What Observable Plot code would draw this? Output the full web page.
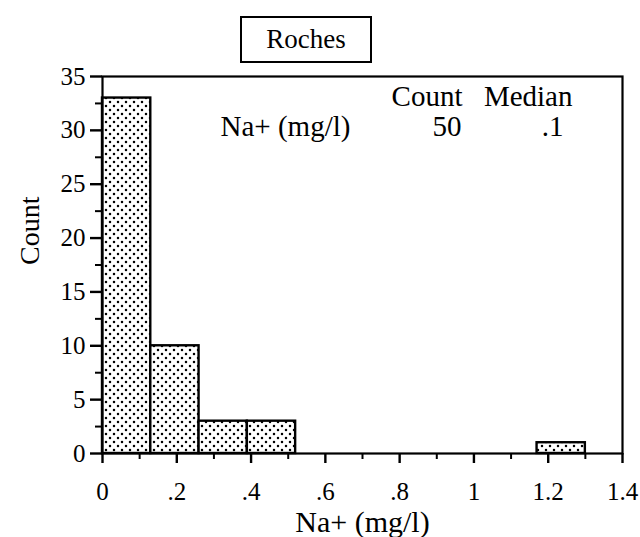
<!DOCTYPE html>
<html>
<head>
<meta charset="utf-8">
<script src="https://cdn.jsdelivr.net/npm/d3@7"></script>
<script src="https://cdn.jsdelivr.net/npm/@observablehq/plot@0.6"></script>
<style>
  body { margin: 0; background: #fff; }
  #wrap { position: relative; width: 640px; height: 537px; font-family: 'Liberation Serif', serif; }
  #title {
    position: absolute; left: 240px; top: 16px; width: 128px; height: 43px;
    border: 2px solid #000; text-align: center; font-size: 27px; line-height: 43px; background: #fff;
  }
</style>
</head>
<body>
<div id="wrap">
  <div id="title">Roches</div>
</div>
<script>
// Histogram of Na+ concentrations (bin width 0.13 mg/l)
const binStart = [0, 0.13, 0.26, 0.39, 1.17];
const binEnd   = [0.13, 0.26, 0.39, 0.52, 1.30];
const counts   = [33, 10, 3, 3, 1];

const variableName = "Na+ (mg/l)";
const medianValue = 0.1;

const xMajorTicks = [0, 0.2, 0.4, 0.6, 0.8, 1, 1.2, 1.4];
const xMinorTicks = [0.1, 0.3, 0.5, 0.7, 0.9, 1.1, 1.3];
const yMajorTicks = [0, 5, 10, 15, 20, 25, 30, 35];
const yMinorTicks = [2.5, 7.5, 12.5, 17.5, 22.5, 27.5, 32.5];

const bins = binStart.map((x1, i) => ({x1, x2: binEnd[i], count: counts[i]}));
const total = d3.sum(counts);
const fmtX = d => d === 0 ? "0" : String(d).replace(/^0\./, ".");

const serif = "Liberation Serif";
const big = 29;

const label = (value, opts) => Plot.text([value], {text: d => String(d), lineAnchor: "middle", fontSize: big, ...opts});

const chart = Plot.plot({
  width: 640,
  height: 537,
  marginLeft: 102,
  marginRight: 18,
  marginTop: 76,
  marginBottom: 84,
  style: {fontFamily: serif, fontSize: "25px", color: "#000", background: "transparent"},
  x: {domain: [0, 1.4]},
  y: {domain: [0, 35]},
  marks: [
    Plot.rectY(bins, {x1: "x1", x2: "x2", y: "count", fill: "url(#stipple)", stroke: "#000", strokeWidth: 2.4}),
    Plot.frame({stroke: "#000", strokeWidth: 2.2}),
    Plot.axisX(xMajorTicks, {tickSize: 10, tickPadding: 19, strokeWidth: 2.4, tickFormat: fmtX, label: null, fontSize: 25}),
    Plot.axisX(xMinorTicks, {tickSize: 6, strokeWidth: 2, tickFormat: () => "", label: null}),
    Plot.axisY(yMajorTicks, {tickSize: 12, tickPadding: 5, strokeWidth: 2.4, label: null, fontSize: 25}),
    Plot.axisY(yMinorTicks, {tickSize: 7, strokeWidth: 2, tickFormat: () => "", label: null}),
    // axis titles
    label(variableName, {frameAnchor: "bottom", dy: 69, fontSize: 30}),
    label("Count", {frameAnchor: "left", dx: -72, rotate: -90, fontSize: 28}),
    // summary table
    label("Count", {frameAnchor: "top-right", dx: -160, dy: 20, textAnchor: "end"}),
    label("Median", {frameAnchor: "top-right", dx: -50, dy: 20, textAnchor: "end"}),
    label(variableName, {frameAnchor: "top-left", dx: 118, dy: 50, textAnchor: "start"}),
    label(total, {frameAnchor: "top-right", dx: -161, dy: 50, textAnchor: "end"}),
    Plot.text([medianValue], {frameAnchor: "top-right", dx: -59, dy: 50, textAnchor: "end", lineAnchor: "middle", fontSize: big, text: d => fmtX(d)})
  ]
});

// stipple pattern used to fill the bars
const ns = "http://www.w3.org/2000/svg";
const defs = document.createElementNS(ns, "defs");
const pat = document.createElementNS(ns, "pattern");
pat.setAttribute("id", "stipple");
pat.setAttribute("patternUnits", "userSpaceOnUse");
pat.setAttribute("width", "8");
pat.setAttribute("height", "8");
const bg = document.createElementNS(ns, "rect");
bg.setAttribute("width", "8"); bg.setAttribute("height", "8"); bg.setAttribute("fill", "#fff");
pat.appendChild(bg);
[[2, 2], [6, 6]].forEach(([cx, cy]) => {
  const c = document.createElementNS(ns, "circle");
  c.setAttribute("cx", cx); c.setAttribute("cy", cy); c.setAttribute("r", "1.25"); c.setAttribute("fill", "#000");
  pat.appendChild(c);
});
defs.appendChild(pat);
chart.insertBefore(defs, chart.firstChild);

chart.style.position = "absolute";
chart.style.left = "0";
chart.style.top = "0";
document.getElementById("wrap").insertBefore(chart, document.getElementById("title"));
</script>
</body>
</html>
